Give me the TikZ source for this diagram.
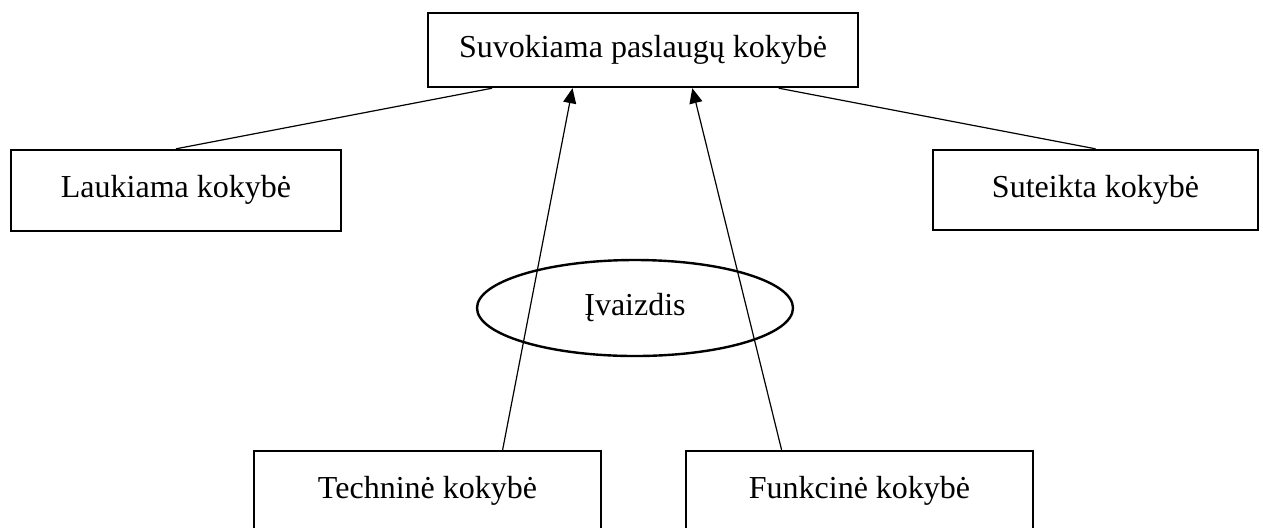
\documentclass[tikz,border=0pt]{standalone}
\usepackage{fontspec}
\setmainfont{Liberation Serif}
\usetikzlibrary{shapes.geometric,arrows.meta,calc}

\tikzset{
  qbox/.style={draw, line width=1.2pt, rectangle, inner sep=0pt,
    font=\fontsize{16}{20}\selectfont, text height=13pt, text depth=6pt},
  qoval/.style={draw, line width=1.2pt, ellipse, inner sep=0pt,
    font=\fontsize{16}{20}\selectfont, text height=13pt, text depth=6pt},
  link/.style={line width=0.6pt},
  flow/.style={line width=0.6pt, -{Triangle[length=7.5pt,width=6.5pt]}}
}

\begin{document}
\begin{tikzpicture}[x=0.5pt, y=-0.5pt]
  \useasboundingbox (0,0) rectangle (1263,527);
  \clip (0,0) rectangle (1263,527);

  % quality components
  \node[qbox, minimum width=215pt, minimum height=37pt] (perceived) at (643,50) {Suvokiama paslaugų kokybė};
  \node[qbox, minimum width=165pt, minimum height=40.5pt] (expected) at (176,190.5) {Laukiama kokybė};
  \node[qbox, minimum width=162.5pt, minimum height=40pt] (delivered) at (1095.5,190) {Suteikta kokybė};
  \node[qoval, minimum width=158pt, minimum height=48pt] (image) at (635,308) {Įvaizdis};
  \node[qbox, minimum width=173.5pt, minimum height=40pt] (technical) at (427.5,491) {Techninė kokybė};
  \node[qbox, minimum width=173.5pt, minimum height=40pt] (functional) at (859.5,491) {Funkcinė kokybė};

  % connections to perceived quality
  \draw[link] ($(perceived.south west)!0.151!(perceived.south east)$) -- (expected.north);
  \draw[link] ($(perceived.south west)!0.814!(perceived.south east)$) -- (delivered.north);
  \draw[flow] ($(technical.north west)!0.715!(technical.north east)$) -- ($(perceived.south west)!0.337!(perceived.south east)$);
  \draw[flow] ($(functional.north west)!0.277!(functional.north east)$) -- ($(perceived.south west)!0.614!(perceived.south east)$);
\end{tikzpicture}
\end{document}
